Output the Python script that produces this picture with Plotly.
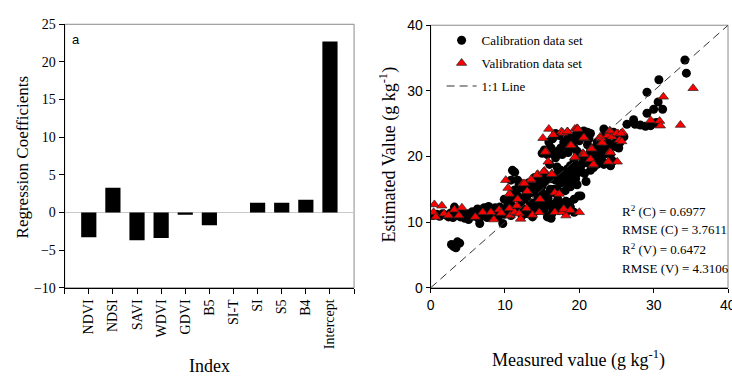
import plotly.graph_objects as go

# ---------------- data ----------------
categories = ["NDVI", "NDSI", "SAVI", "WDVI", "GDVI", "B5", "SI-T", "SI", "S5", "B4", "Intercept"]
coefficients = [-3.3, 3.3, -3.7, -3.4, -0.3, -1.7, 0.0, 1.3, 1.3, 1.7, 22.7]

cal_x = [0.3, 0.8, 1.2, 1.6, 2.0, 2.4, 2.7, 3.0, 3.2, 3.4, 3.7, 4.0, 4.3, 4.6, 4.9, 5.1, 5.3, 5.6, 5.9, 6.1,
         6.3, 6.5, 6.6, 6.8, 7.0, 7.2, 7.4, 7.6, 7.8, 8.0, 8.2, 8.5, 8.7, 8.9, 9.1, 9.3, 9.5, 9.7, 9.9, 10.0,
         10.2, 10.4, 10.6, 10.8, 11.0,
         2.8, 3.1, 3.4, 3.6, 3.9, 3.5,
         11.0, 11.3, 10.8, 11.7, 11.9, 12.4, 11.3, 10.8, 11.7, 12.6, 13.5, 13.5, 14.2, 14.4, 14.8, 15.0, 15.5,
         15.3, 16.2, 16.3, 16.2, 15.7, 14.6, 13.9, 13.7, 13.0, 12.6, 12.1, 11.7, 11.3, 10.8, 10.4, 9.9, 10.6,
         12.8, 13.3, 13.9, 14.4, 14.8, 15.3, 15.4, 16.2, 16.8, 17.1, 17.5, 17.7, 17.9, 18.4, 18.8, 19.1, 19.5,
         19.7, 19.9, 19.3, 18.2, 17.7, 18.2, 18.8, 19.3, 17.1, 16.6, 17.2, 20.2, 19.9, 19.7, 20.2, 20.7, 20.9,
         18.8, 19.3, 18.4,
         15.0, 15.3, 15.7, 16.2, 16.4, 16.8, 17.1, 17.5, 17.7, 17.9, 18.4, 18.6, 18.8, 19.1, 19.5, 19.9, 20.2,
         20.6, 21.1, 21.3, 21.5, 16.4, 16.8, 17.3, 15.9, 21.1, 21.5, 21.9, 22.4, 22.6, 22.9, 23.3, 23.5, 23.8,
         24.0, 24.2, 24.5, 24.2, 23.3, 22.9, 22.4, 21.9, 21.5, 21.1, 20.6, 20.2, 19.7, 19.3, 25.3, 25.5, 25.1,
         24.6, 26.0, 24.6, 23.3, 22.9,
         12.2, 12.9, 13.8, 14.0, 14.9, 15.8, 16.6, 17.4, 18.0, 18.6, 19.0, 20.4, 21.2, 22.0, 22.7, 23.6, 24.8,
         25.6, 20.0, 20.9, 21.7, 22.3, 23.1, 16.0, 17.0, 18.5,
         11.5, 12.0, 12.3, 12.8, 13.2, 13.6, 14.1, 14.5, 15.0, 15.6, 16.0, 16.5, 17.0, 17.6, 18.1, 18.7, 19.2,
         12.5, 13.4, 14.3, 15.2, 16.1, 17.3, 18.3, 19.6, 20.4, 21.0, 21.8, 22.5, 23.0, 23.7, 24.4, 25.0,
         26.4, 27.3, 27.5, 28.2, 28.9, 29.1, 29.1, 29.6, 30.0, 30.0, 30.6, 30.7, 31.2, 30.4, 34.2, 34.4]
cal_y = [11.0, 11.2, 10.9, 11.3, 11.1, 10.8, 11.4, 10.7, 12.3, 11.0, 11.5, 10.8, 11.2, 10.6, 11.3, 10.4, 11.0, 11.6, 10.9, 11.3,
         12.0, 10.5, 9.8, 11.8, 11.0, 12.2, 11.5, 10.7, 12.4, 11.2, 11.9, 11.0, 12.2, 11.5, 10.8, 12.3, 11.8, 9.8, 11.2, 12.0,
         11.5, 12.8, 13.0, 11.0, 12.2,
         6.6, 6.3, 6.1, 7.0, 6.8, 6.6,
         17.9, 17.6, 16.4, 16.4, 15.7, 15.2, 14.9, 14.2, 14.0, 13.5, 12.7, 14.5, 14.9, 14.0, 14.7, 13.5, 13.0,
         12.0, 12.5, 11.3, 10.6, 10.8, 12.3, 11.5, 10.8, 11.3, 12.0, 11.5, 12.3, 11.8, 12.7, 12.5, 13.5, 13.7,
         14.2, 15.4, 15.7, 16.4, 16.2, 16.9, 16.2, 16.6, 16.4, 17.4, 17.9, 16.9, 16.2, 15.7, 15.4, 16.2, 16.6,
         15.7, 14.0, 13.5, 13.2, 12.3, 11.5, 12.3, 11.5, 13.5, 14.5, 14.7, 14.0, 18.3, 17.4, 17.9, 17.4, 16.2,
         18.6, 19.3, 18.1,
         20.5, 21.0, 20.3, 21.3, 20.5, 19.8, 20.8, 21.3, 20.3, 22.2, 22.7, 21.3, 23.0, 22.2, 23.2, 23.7, 23.2,
         23.9, 23.7, 22.7, 23.5, 22.7, 23.5, 23.2, 22.2, 21.8, 20.8, 21.3, 22.2, 20.3, 21.3, 24.2, 23.2, 22.2,
         21.3, 20.3, 19.3, 18.6, 18.8, 19.8, 18.8, 18.3, 17.9, 19.3, 19.8, 20.3, 20.8, 21.3, 21.3, 22.2, 23.2,
         23.7, 23.0, 21.8, 20.3, 22.7,
         13.2, 13.8, 12.9, 16.8, 12.6, 13.6, 15.0, 15.9, 17.0, 16.8, 17.5, 18.9, 19.0, 19.6, 20.5, 20.8, 21.5,
         22.8, 22.4, 22.9, 21.0, 19.9, 19.2, 18.8, 18.4, 20.6,
         13.8, 15.2, 11.0, 14.9, 16.0, 12.2, 13.0, 11.8, 15.5, 14.2, 12.9, 11.9, 13.1, 12.5, 14.8, 13.0, 16.9,
         11.4, 12.9, 15.9, 11.8, 15.0, 12.1, 17.2, 18.0, 18.9, 19.5, 20.0, 19.0, 20.9, 20.7, 21.9, 22.9,
         24.9, 25.6, 24.9, 24.8, 24.6, 29.8, 26.6, 24.7, 25.1, 27.2, 28.3, 31.7, 27.2, 25.2, 34.7, 32.7]

val_x = [0.4, 0.5, 0.7, 1.5, 1.8, 2.4, 3.2, 3.8, 4.2, 6.0, 7.0, 8.1, 8.5, 9.2, 9.5, 10.1, 10.4, 10.6, 10.6, 10.7,
         11.3, 11.6, 11.7, 11.9, 12.1, 12.4, 12.9, 13.0, 13.5, 13.7, 14.4, 14.6, 14.7, 15.1, 15.3, 15.5, 15.8,
         15.9, 16.3, 16.5, 16.7, 16.7, 17.3, 17.6, 17.7, 17.9, 18.4, 18.2, 18.8, 18.8, 19.4, 19.4, 19.7, 20.0,
         20.5, 20.7, 21.5, 21.7, 21.9, 22.8, 23.0, 23.8, 23.9, 24.1, 24.1, 24.4, 25.1, 25.2, 25.4, 25.8,
         29.6, 30.8, 30.9, 31.3, 33.6, 35.3,
         17.8, 18.4, 19.8, 20.6, 18.9, 21.6, 20.6, 19.4, 15.4, 14.3, 15.2, 16.3, 13.5, 12.6, 22.9, 23.1, 24.1,
         25.0, 25.6, 25.7, 24.2, 23.9, 21.9]
val_y = [11.5, 12.7, 10.8, 12.5, 11.3, 11.0, 11.9, 11.0, 12.2, 10.8, 11.5, 11.5, 10.4, 11.9, 11.4, 16.4, 15.2, 14.3, 12.1, 11.0,
         11.5, 12.5, 13.5, 11.3, 10.5, 15.9, 12.1, 14.7, 16.4, 11.1, 17.3, 11.5, 13.5, 22.8, 17.8, 20.8, 19.2,
         24.2, 17.4, 23.3, 11.5, 14.5, 14.3, 23.8, 11.5, 12.0, 23.8, 11.0, 11.8, 21.7, 19.8, 24.2, 24.3, 11.5,
         20.5, 22.8, 19.6, 21.2, 18.7, 23.0, 22.1, 23.2, 19.2, 20.7, 23.9, 23.0, 19.2, 23.5, 22.5, 23.7,
         25.5, 25.4, 24.7, 29.1, 24.8, 30.4,
         23.6, 23.8, 24.2, 22.9, 21.7, 21.2, 20.3, 19.9, 20.7, 17.2, 17.7, 17.3, 16.5, 15.9, 22.8, 22.1, 23.9,
         23.5, 23.5, 22.3, 20.6, 19.2, 18.8]

line_x = [0, 40]
line_y = [0, 40]

stats = ["R<sup>2</sup> (C) = 0.6977", "RMSE (C) = 3.7611", "R<sup>2</sup> (V) = 0.6472", "RMSE (V) = 4.3106"]

# ---------------- figure ----------------
W, H = 732, 383
SERIF = "Liberation Serif"
SANS = "Liberation Sans"

def px_x(p):
    return p / W

def px_y(p):
    return 1 - p / H

fig = go.Figure()

fig.add_trace(go.Bar(
    x=list(range(len(categories))), y=coefficients, width=0.63,
    marker=dict(color="black", line=dict(width=0)),
    xaxis="x", yaxis="y", showlegend=False,
))

fig.add_trace(go.Scatter(
    x=cal_x, y=cal_y, mode="markers", name="Calibration data set", legendgroup="c",
    marker=dict(symbol="circle", size=9, color="black", line=dict(width=0)),
    xaxis="x2", yaxis="y2",
))
fig.add_trace(go.Scatter(
    x=val_x, y=val_y, mode="markers", name="Valibration data set", legendgroup="v",
    marker=dict(symbol="triangle-up", size=9, color="#ff0000", line=dict(width=0.7, color="#222")),
    xaxis="x2", yaxis="y2",
))
fig.add_trace(go.Scatter(
    x=line_x, y=line_y, mode="lines", name="1:1 Line", legendgroup="l",
    line=dict(color="#333333", width=1, dash="8px,5px"),
    xaxis="x2", yaxis="y2",
))

left_dom_x = [px_x(61), px_x(352)]
left_dom_y = [px_y(292), px_y(17)]
right_dom_x = [px_x(429), px_x(728)]
right_dom_y = [px_y(292), px_y(18)]

fig.update_layout(
    width=W, height=H,
    margin=dict(l=0, r=0, t=0, b=0),
    paper_bgcolor="white", plot_bgcolor="white",
    xaxis=dict(
        domain=left_dom_x, range=[-1, len(categories)],
        tickmode="array", tickvals=list(range(-1, len(categories) + 1)),
        ticktext=[""] + categories + [""],
        tickangle=-90, ticks="outside", ticklen=5, tickcolor="black",
        showline=True, linecolor="black", linewidth=1,
        showgrid=False, zeroline=False,
        tickfont=dict(family=SERIF, size=14, color="black"),
        anchor="y",
    ),
    yaxis=dict(
        domain=left_dom_y, range=[-10, 25], dtick=5,
        ticks="outside", ticklen=5, tickcolor="black",
        showline=True, linecolor="black", linewidth=1,
        showgrid=False, zeroline=True, zerolinecolor="#c8c8c8", zerolinewidth=1,
        tickfont=dict(family=SERIF, size=14, color="black"),
        anchor="x",
    ),
    xaxis2=dict(
        domain=right_dom_x, range=[0, 40], dtick=10,
        ticks="outside", ticklen=4, tickcolor="black",
        showline=True, linecolor="black", linewidth=1,
        showgrid=False, zeroline=False,
        tickfont=dict(family=SANS, size=14, color="black"),
        anchor="y2",
    ),
    yaxis2=dict(
        domain=right_dom_y, range=[0, 40], dtick=10,
        ticks="outside", ticklen=4, tickcolor="black",
        showline=True, linecolor="black", linewidth=1,
        showgrid=False, zeroline=False,
        tickfont=dict(family=SANS, size=14, color="black"),
        anchor="x2",
    ),
    legend=dict(
        x=px_x(440), y=px_y(18), xanchor="left", yanchor="top",
        bgcolor="rgba(0,0,0,0)", borderwidth=0,
        font=dict(family=SERIF, size=13, color="black"),
        traceorder="grouped", tracegroupgap=3,
    ),
    showlegend=True,
)

# frame rectangles (grey top/right borders)
for xr, yr in (("x domain", "y domain"), ("x2 domain", "y2 domain")):
    fig.add_shape(type="rect", xref=xr, yref=yr, x0=0, x1=1, y0=0, y1=1,
                  line=dict(color="#8a8a8a", width=1), layer="below")

anns = [
    dict(text="Regression Coefficients", x=px_x(19), y=px_y(155), textangle=-90,
         font=dict(family=SERIF, size=17, color="black")),
    dict(text="Index", x=px_x(207), y=px_y(374),
         font=dict(family=SERIF, size=18, color="black")),
    dict(text="a", x=px_x(72), y=px_y(33),
         font=dict(family=SANS, size=13, color="black")),
    dict(text="Estimated Value (g kg<sup>-1</sup>)", x=px_x(386), y=px_y(153), textangle=-90,
         font=dict(family=SERIF, size=18, color="black")),
    dict(text="Measured value (g kg<sup>-1</sup>)", x=px_x(578), y=px_y(366),
         font=dict(family=SERIF, size=18, color="black")),
]
for i, (txt, yc) in enumerate(zip(stats, [212, 231, 252, 272])):
    anns.append(dict(text=txt, x=px_x(619), y=px_y(yc), xanchor="left",
                     font=dict(family=SERIF, size=13, color="black")))
for a in anns:
    a.setdefault("xanchor", "center")
    fig.add_annotation(xref="paper", yref="paper", yanchor="middle", showarrow=False, **a)

# last x tick label of the right panel, partly cut by the page edge as in the reference
fig.add_annotation(xref="x2", x=40, yref="paper", y=px_y(310), yanchor="middle",
                   xanchor="center", showarrow=False, text="40",
                   font=dict(family=SANS, size=14, color="black"))

fig.write_html("out.html")
